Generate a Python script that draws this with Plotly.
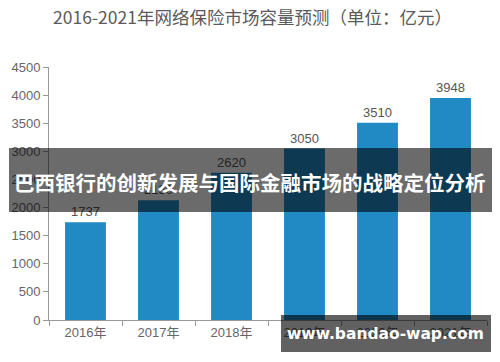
import plotly.graph_objects as go

years = ["2016年", "2017年", "2018年", "2019年", "2020年", "2021年"]
values = [1737, 2130, 2620, 3050, 3510, 3948]
value_labels = ["1737", "2130", "2620", "3050", "3510", "3948"]
y_ticks = [0, 500, 1000, 1500, 2000, 2500, 3000, 3500, 4000, 4500]

title_text = "2016-2021年网络保险市场容量预测（单位：亿元）"
banner_text = "巴西银行的创新发展与国际金融市场的战略定位分析"
watermark_text = "www.bandao-wap.com"

FONT = "Liberation Sans, Noto Sans CJK SC, sans-serif"
CJK = "Noto Sans CJK SC, sans-serif"

fig = go.Figure()
fig.add_trace(go.Bar(
    x=years, y=values,
    marker=dict(color="#2189c3", line=dict(width=0)),
    text=value_labels, textposition="outside",
    textfont=dict(size=13, color="#555555", family=FONT),
    cliponaxis=False,
    hoverinfo="skip",
))

fig.update_layout(
    width=500, height=362,
    margin=dict(l=49, r=13, t=67, b=42),
    paper_bgcolor="white", plot_bgcolor="white",
    showlegend=False,
    bargap=0.44,
    title=dict(text=title_text, x=0.505, xanchor="center", y=0.95, yanchor="middle",
               font=dict(size=17.5, color="#5a5a5a", family=CJK)),
    font=dict(family=FONT, color="#666666", size=13),
)
fig.update_xaxes(
    type="category", showgrid=False, zeroline=False,
    showline=True, linecolor="#999999", linewidth=1,
    ticks="outside", tickson="boundaries", ticklen=5, tickcolor="#999999",
    tickfont=dict(size=13, color="#666666", family=FONT),
)
fig.update_yaxes(
    range=[0, 4500], tickvals=y_ticks, showgrid=False, zeroline=False,
    showline=True, linecolor="#999999", linewidth=1,
    ticks="outside", ticklen=5, tickcolor="#999999",
    tickfont=dict(size=13, color="#666666", family=FONT),
)

# overlay banner
fig.add_shape(type="rect", xref="paper", yref="paper",
              x0=(9 - 49) / 438, x1=(492 - 49) / 438,
              y0=(320 - 212) / 253, y1=(320 - 148) / 253,
              fillcolor="rgba(0,0,0,0.58)", line=dict(width=0), layer="above")
fig.add_annotation(text="<b>" + banner_text + "</b>", xref="paper", yref="paper",
                   x=(250 - 49) / 438, y=(320 - 182) / 253, showarrow=False,
                   xanchor="center", yanchor="middle",
                   font=dict(size=20.5, color="white", family=CJK))

# watermark
fig.add_shape(type="rect", xref="paper", yref="paper",
              x0=(281 - 49) / 438, x1=(491 - 49) / 438,
              y0=(320 - 352) / 253, y1=(320 - 315) / 253,
              fillcolor="rgba(0,0,0,0.62)", line=dict(width=0), layer="above")
fig.add_annotation(text="<b>" + watermark_text + "</b>", xref="paper", yref="paper",
                   x=(385 - 49) / 438, y=(320 - 334) / 253, showarrow=False,
                   xanchor="center", yanchor="middle",
                   font=dict(size=15.5, color="white", family="DejaVu Sans, sans-serif"))

fig.write_html("out.html", config={"displayModeBar": False},
               post_script="document.body.style.margin='0';document.body.style.padding='0';")
